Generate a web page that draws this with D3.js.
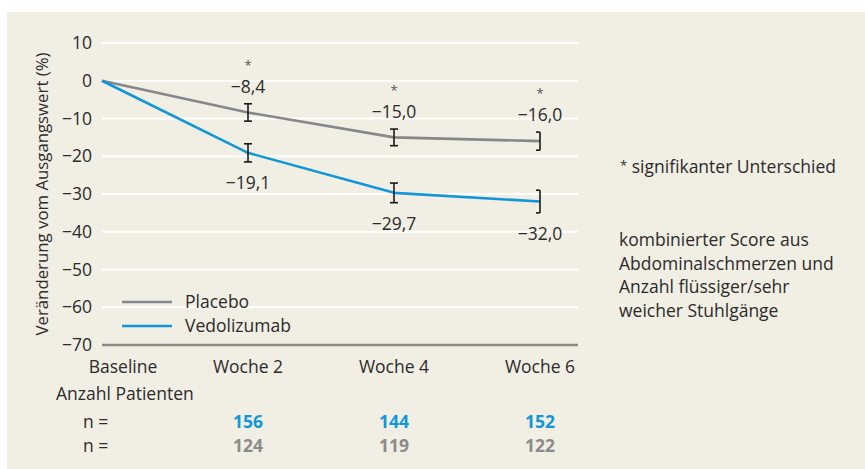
<!DOCTYPE html>
<html><head><meta charset="utf-8">
<script src="https://cdn.jsdelivr.net/npm/d3@7"></script>
<style>
html,body{margin:0;padding:0;background:#fff;}
svg{display:block;font-family:"Open Sans",sans-serif;}
</style></head>
<body><svg id="c" width="865" height="469"></svg>
<script>
const categories = ["Baseline","Woche 2","Woche 4","Woche 6"];
const placebo = [0,-8.4,-15.0,-16.0];
const vedolizumab = [0,-19.1,-29.7,-32.0];
const placeboErr = [null,2.3,2.2,2.4];
const vedoErr = [null,2.4,2.6,3.0];
const placeboLabels = [null,"−8,4","−15,0","−16,0"];
const vedoLabels = [null,"−19,1","−29,7","−32,0"];
const significant = [false,true,true,true];
const yTicks = [10,0,-10,-20,-30,-40,-50,-60,-70];
const nVedo = [null,"156","144","152"];
const nPlacebo = [null,"124","119","122"];
const seriesNames = ["Placebo","Vedolizumab"];
const noteText = ["kombinierter Score aus","Abdominalschmerzen und","Anzahl flüssiger/sehr","weicher Stuhlgänge"];

const GRAY="#85878a", BLUE="#1197d9", TXT="#2b2b2b", FS=17.5;
const svg=d3.select("#c");
svg.append("rect").attr("x",7).attr("y",12).attr("width",858).attr("height",457).attr("fill","#f1eee3");

const x=d3.scalePoint().domain(categories).range([102,540]);
const y=d3.scaleLinear().domain([-70,10]).range([345,43]);
const gridRight=578;

svg.append("g").selectAll("line").data(yTicks.filter(d=>d>-70)).join("line")
 .attr("x1",102).attr("x2",gridRight).attr("y1",d=>y(d)).attr("y2",d=>y(d))
 .attr("stroke","#fff").attr("stroke-width",2.2);
svg.append("line").attr("x1",102).attr("x2",gridRight).attr("y1",y(-70)).attr("y2",y(-70))
 .attr("stroke","#8a8a8a").attr("stroke-width",2.5);

svg.append("g").selectAll("text").data(yTicks).join("text")
 .attr("x",92).attr("y",d=>y(d)).attr("dy","0.35em").attr("text-anchor","end")
 .attr("font-size",FS).attr("fill",TXT).text(d=>d<0?"−"+Math.abs(d):d);

svg.append("text").attr("transform",`translate(48,${y(-30)}) rotate(-90)`)
 .attr("text-anchor","middle").attr("font-size",16.8).attr("fill",TXT)
 .text("Veränderung vom Ausgangswert (%)");

const line=d3.line().x((d,i)=>x(categories[i])).y(d=>y(d));
svg.append("path").datum(placebo).attr("d",line).attr("fill","none").attr("stroke",GRAY).attr("stroke-width",2.6).attr("stroke-linejoin","round");
svg.append("path").datum(vedolizumab).attr("d",line).attr("fill","none").attr("stroke",BLUE).attr("stroke-width",2.6).attr("stroke-linejoin","round");

function errBars(vals,errs){
  vals.forEach((v,i)=>{
    if(errs[i]==null) return;
    const cx=x(categories[i]), y1=y(v+errs[i]), y2=y(v-errs[i]);
    const last=i===categories.length-1;
    const g=svg.append("g").attr("stroke","#1a1a1a").attr("stroke-width",1.6).attr("fill","none");
    g.append("line").attr("x1",cx).attr("x2",cx).attr("y1",y1).attr("y2",y2);
    const l=cx-4, r=last?cx:cx+4;
    g.append("line").attr("x1",l).attr("x2",r).attr("y1",y1).attr("y2",y1);
    g.append("line").attr("x1",l).attr("x2",r).attr("y1",y2).attr("y2",y2);
  });
}
errBars(placebo,placeboErr);
errBars(vedolizumab,vedoErr);

placebo.forEach((v,i)=>{
  if(!placeboLabels[i]) return;
  const cx=x(categories[i]), top=y(v+placeboErr[i]);
  const by = top-11;
  svg.append("text").attr("x",cx).attr("y",by).attr("text-anchor","middle").attr("font-size",FS).attr("fill",TXT).text(placeboLabels[i]);
  if(significant[i]) svg.append("text").attr("x",cx).attr("y",by-23).attr("text-anchor","middle").attr("font-size",13).attr("fill","#555").text("*");
});
vedolizumab.forEach((v,i)=>{
  if(!vedoLabels[i]) return;
  const cx=x(categories[i]), bot=y(v-vedoErr[i]);
  svg.append("text").attr("x",cx).attr("y",bot+27).attr("text-anchor","middle").attr("font-size",FS).attr("fill",TXT).text(vedoLabels[i]);
});

[[GRAY,302,seriesNames[0]],[BLUE,326,seriesNames[1]]].forEach(([c,yy,t])=>{
  svg.append("line").attr("x1",122).attr("x2",172).attr("y1",yy).attr("y2",yy).attr("stroke",c).attr("stroke-width",2.6);
  svg.append("text").attr("x",185).attr("y",yy+6).attr("font-size",FS).attr("fill",TXT).text(t);
});

svg.append("g").selectAll("text").data(categories).join("text")
 .attr("x",(d,i)=>i===0?123:x(d)).attr("y",373).attr("text-anchor","middle")
 .attr("font-size",FS).attr("fill",TXT).text(d=>d);

svg.append("text").attr("x",56).attr("y",400).attr("font-size",FS).attr("fill",TXT).text("Anzahl Patienten");
svg.append("text").attr("x",83).attr("y",428).attr("font-size",FS).attr("fill",TXT).text("n =");
svg.append("text").attr("x",83).attr("y",452).attr("font-size",FS).attr("fill",TXT).text("n =");
categories.forEach((c,i)=>{
  if(nVedo[i]) svg.append("text").attr("x",x(c)).attr("y",428).attr("text-anchor","middle").attr("font-size",FS).attr("font-weight","bold").attr("fill",BLUE).text(nVedo[i]);
  if(nPlacebo[i]) svg.append("text").attr("x",x(c)).attr("y",452).attr("text-anchor","middle").attr("font-size",FS).attr("font-weight","bold").attr("fill","#8a8a8a").text(nPlacebo[i]);
});

const s=svg.append("text").attr("x",620).attr("y",173).attr("font-size",FS).attr("fill",TXT);
s.append("tspan").attr("font-size",13).attr("dy",-3).text("*");
s.append("tspan").attr("dy",3).text(" signifikanter Unterschied");
noteText.forEach((t,i)=>svg.append("text").attr("x",619).attr("y",246+i*23.6).attr("font-size",FS).attr("fill",TXT).text(t));
</script></body></html>
